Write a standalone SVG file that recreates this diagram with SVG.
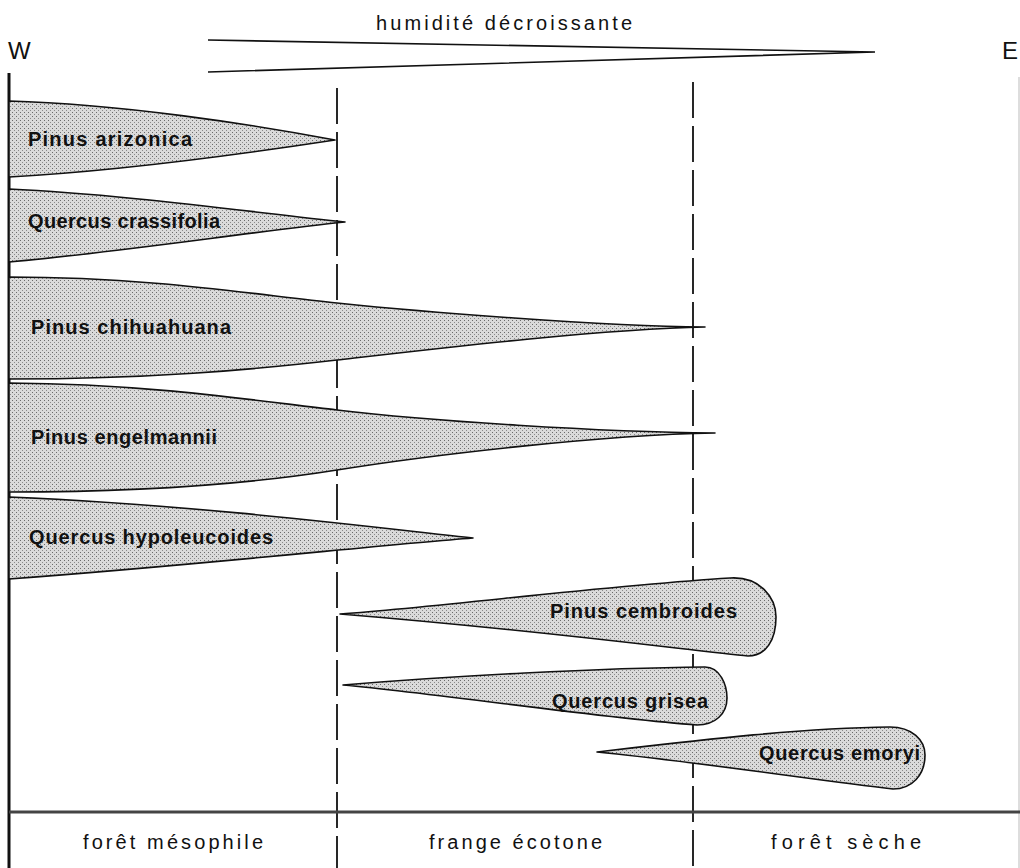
<svg xmlns="http://www.w3.org/2000/svg" width="1020" height="868" viewBox="0 0 1020 868">
<style>
.lbl{font-family:"Liberation Sans",Arial,sans-serif;font-size:20px;fill:#111}
.sp{font-family:"Liberation Sans",Arial,sans-serif;font-size:20px;font-weight:bold;fill:#111}
.dir{font-family:"Liberation Sans",Arial,sans-serif;font-size:24px;fill:#111}
.shape{fill:url(#stip);stroke:#111;stroke-width:1.6;stroke-linejoin:round}
.dash{stroke:#111;stroke-width:1.8;stroke-dasharray:36 8;fill:none}
.ax{stroke:#111;fill:none}
</style>
<defs>
<pattern id="stip" width="4" height="4" patternUnits="userSpaceOnUse">
<rect width="4" height="4" fill="#dadada"/>
<rect x="0" y="0" width="1" height="1" fill="#6a6a6a"/>
<rect x="2" y="2" width="1" height="1" fill="#8a8a8a"/>
</pattern>
</defs>
<rect width="1020" height="868" fill="#fff"/>
<g id="header">
<text class="lbl" x="376" y="30" textLength="256" lengthAdjust="spacing">humidité décroissante</text>
<text class="dir" x="8" y="59">W</text>
<text class="dir" x="1002" y="59">E</text>
<path class="ax" stroke-width="1.6" d="M208,40 L875,52 L208,72"/>
</g>
<g id="connectors">
<line class="ax" stroke-width="3" x1="9" y1="73" x2="9" y2="868"/>
<line x1="1019" y1="77" x2="1019" y2="868" stroke="#bbb" stroke-width="1"/>
<line class="dash" x1="337" y1="88" x2="337" y2="868"/>
<line class="dash" x1="693" y1="82" x2="693" y2="868"/>
<line x1="9" y1="812" x2="1020" y2="812" stroke="#444" stroke-width="3"/>
</g>
<g id="pinus-arizonica">
<path class="shape" d="M9,101 C120,104 250,124 335,140 C250,153 120,171 9,177 Z"/>
<text class="sp" x="28" y="146" textLength="164" lengthAdjust="spacing">Pinus arizonica</text>
</g>
<g id="quercus-crassifolia">
<path class="shape" d="M9,189 C120,194 250,212 345,222 C250,232 120,252 9,262 Z"/>
<text class="sp" x="28" y="228" textLength="192" lengthAdjust="spacing">Quercus crassifolia</text>
</g>
<g id="pinus-chihuahuana">
<path class="shape" d="M9,277 C150,277 250,294 337,303 C424,312 600,326 705,327 C600,329 424,350 337,360 C250,370 150,379 9,379 Z"/>
<text class="sp" x="31" y="334" textLength="200" lengthAdjust="spacing">Pinus chihuahuana</text>
</g>
<g id="pinus-engelmannii">
<path class="shape" d="M9,383 C150,384 250,400 337,410 C430,421 600,432 715,433 C600,435 430,455 337,470 C250,484 150,492 9,492 Z"/>
<text class="sp" x="31" y="444" textLength="186" lengthAdjust="spacing">Pinus engelmannii</text>
</g>
<g id="quercus-hypoleucoides">
<path class="shape" d="M9,497 C200,505 380,528 473,538 C380,545 200,565 9,579 Z"/>
<text class="sp" x="29" y="544" textLength="244" lengthAdjust="spacing">Quercus hypoleucoides</text>
</g>
<g id="pinus-cembroides">
<path class="shape" d="M340,614 C450,606 600,586 730,578 C760,576 776,598 776,617 C776,640 766,656 748,656 C700,652 560,632 340,614 Z"/>
<text class="sp" x="550" y="618" textLength="187" lengthAdjust="spacing">Pinus cembroides</text>
</g>
<g id="quercus-grisea">
<path class="shape" d="M343,685 C450,676 600,668 705,667 C720,667 727,685 727,698 C727,714 715,725 697,725 C600,718 450,695 343,685 Z"/>
<text class="sp" x="552" y="708" textLength="156" lengthAdjust="spacing">Quercus grisea</text>
</g>
<g id="quercus-emoryi">
<path class="shape" d="M597,752 C700,740 800,728 890,727 C912,727 925,740 925,755 C925,775 912,789 893,789 C820,781 700,762 597,752 Z"/>
<text class="sp" x="759" y="760" textLength="161" lengthAdjust="spacing">Quercus emoryi</text>
</g>
<g id="zones">
<text class="lbl" x="83" y="849" textLength="180" lengthAdjust="spacing">forêt mésophile</text>
<text class="lbl" x="429" y="849" textLength="173" lengthAdjust="spacing">frange écotone</text>
<text class="lbl" x="771" y="849" textLength="150" lengthAdjust="spacing">forêt sèche</text>
</g>
</svg>
